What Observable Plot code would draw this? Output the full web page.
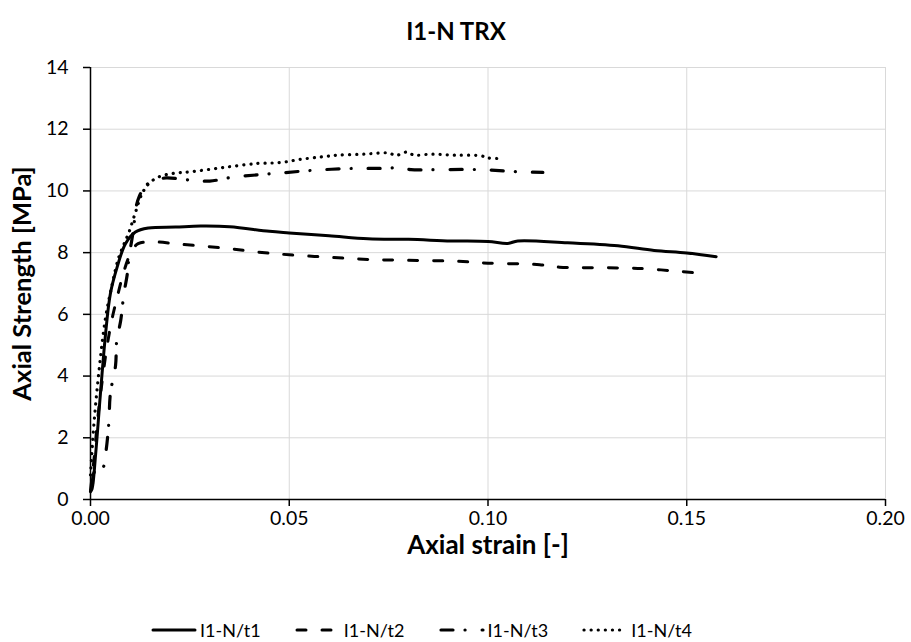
<!DOCTYPE html>
<html>
<head>
<meta charset="utf-8">
<script src="https://cdn.jsdelivr.net/npm/d3@7"></script>
<script src="https://cdn.jsdelivr.net/npm/@observablehq/plot@0.6"></script>
<style>
  html, body { margin: 0; padding: 0; background: #fff; }
  #wrap { position: relative; width: 911px; height: 642px; font-family: Lato, "Open Sans", sans-serif; }
  #legend { position: absolute; top: 616px; left: 151px; display: flex; align-items: center; font-size: 18px; color: #000; line-height: 28px; }
  .item { display: flex; align-items: center; margin-right: 34px; }
  .item svg { margin-right: 3px; }
</style>
</head>
<body>
<div id="wrap">
  <div id="chart"></div>
  <div id="legend"></div>
</div>
<script>
const title = "I1-N TRX";
const xLabel = "Axial strain [-]";
const yLabel = "Axial Strength [MPa]";
const xTicks = [0, 0.05, 0.10, 0.15, 0.20];
const yTicks = [0, 2, 4, 6, 8, 10, 12, 14];
const seriesNames = ["I1-N/t1", "I1-N/t2", "I1-N/t3", "I1-N/t4"];

const t1x = [0, 0.0004, 0.0013, 0.0025, 0.0038, 0.005, 0.0067, 0.0088, 0.0113, 0.0146, 0.0214, 0.0277, 0.035, 0.045, 0.05, 0.06, 0.0698, 0.08, 0.0907, 0.1, 0.105, 0.1075, 0.12, 0.1327, 0.1418, 0.15, 0.1574];
const t1y = [0.25, 0.35, 1.48, 3.43, 5.38, 6.67, 7.53, 8.29, 8.67, 8.80, 8.83, 8.86, 8.84, 8.69, 8.64, 8.55, 8.45, 8.43, 8.38, 8.36, 8.30, 8.38, 8.32, 8.22, 8.07, 7.99, 7.87];

const t2x = [0, 0.0008, 0.0018, 0.003, 0.0042, 0.0055, 0.0068, 0.0082, 0.0098, 0.0115, 0.0126, 0.016, 0.022, 0.0335, 0.042, 0.05, 0.06, 0.0698, 0.08, 0.0924, 0.1, 0.113, 0.118, 0.1377, 0.1528];
const t2y = [0.3, 1.2, 2.6, 3.9, 5.0, 5.9, 6.6, 7.3, 7.9, 8.25, 8.32, 8.35, 8.28, 8.15, 8.02, 7.93, 7.85, 7.78, 7.75, 7.72, 7.66, 7.61, 7.53, 7.49, 7.34];

const t3x = [0.0005, 0.001, 0.003, 0.0038, 0.0046, 0.005, 0.0063, 0.0066, 0.0076, 0.0084, 0.0092, 0.0097, 0.0109, 0.0113, 0.0122, 0.0139, 0.0164, 0.019, 0.025, 0.03, 0.036, 0.042, 0.0478, 0.0562, 0.0663, 0.073, 0.0776, 0.0806, 0.0874, 0.0982, 0.108, 0.1138];
const t3y = [0.5, 0.9, 1.0, 1.48, 2.46, 3.43, 4.34, 5.15, 5.80, 6.67, 7.26, 7.86, 8.83, 9.37, 9.80, 10.18, 10.35, 10.42, 10.35, 10.32, 10.45, 10.52, 10.58, 10.67, 10.73, 10.73, 10.75, 10.69, 10.69, 10.69, 10.62, 10.60];

const t4x = [0, 0.0008, 0.002, 0.0038, 0.0055, 0.007, 0.0085, 0.0097, 0.0113, 0.013, 0.0147, 0.0171, 0.0209, 0.0252, 0.0335, 0.042, 0.0478, 0.0526, 0.058, 0.0621, 0.0688, 0.075, 0.0768, 0.0796, 0.0814, 0.0856, 0.0915, 0.0982, 0.1, 0.1033];
const t4y = [0.8, 2.34, 4.0, 5.9, 7.0, 7.8, 8.3, 8.67, 9.3, 9.92, 10.24, 10.45, 10.57, 10.62, 10.76, 10.89, 10.92, 11.02, 11.10, 11.16, 11.19, 11.23, 11.15, 11.26, 11.16, 11.19, 11.16, 11.14, 11.07, 11.05];

const styles = [
  {strokeWidth: 3, dash: null},
  {strokeWidth: 3, dash: "9,16"},
  {strokeWidth: 3.2, dash: "12,12,0.1,17"},
  {strokeWidth: 3.2, dash: "0.1,7"}
];
const xs = [t1x, t2x, t3x, t4x];
const ys = [t1y, t2y, t3y, t4y];
const series = seriesNames.map((name, k) => xs[k].map((x, i) => ({name, x, y: ys[k][i]})));

const font = "Lato, 'Open Sans', sans-serif";
const chart = Plot.plot({
  width: 911,
  height: 580,
  marginLeft: 90,
  marginRight: 26,
  marginTop: 67,
  marginBottom: 81,
  style: {fontFamily: font, fontSize: "19.5px", color: "#000", background: "#fff", overflow: "visible"},
  x: {domain: [0, 0.2]},
  y: {domain: [0, 14]},
  marks: [
    Plot.gridX(xTicks, {stroke: "#d9d9d9", strokeOpacity: 1, strokeWidth: 1}),
    Plot.gridY(yTicks, {stroke: "#d9d9d9", strokeOpacity: 1, strokeWidth: 1}),
    Plot.axisX(xTicks, {tickSize: 7, tickPadding: 5, tickFormat: d3.format(".2f"), label: null, strokeWidth: 1.5}),
    Plot.axisY(yTicks, {tickSize: 7, tickPadding: 15, label: null, strokeWidth: 1.5}),
    Plot.ruleY([0], {stroke: "#000", strokeWidth: 1.5}),
    Plot.ruleX([0], {stroke: "#000", strokeWidth: 1.5}),
    ...series.map((data, k) => Plot.line(data, {
      x: "x", y: "y", stroke: "#000",
      strokeWidth: styles[k].strokeWidth,
      strokeDasharray: styles[k].dash,
      strokeLinecap: "round", strokeLinejoin: "round",
      curve: "catmull-rom"
    })),
    Plot.text([xLabel], {frameAnchor: "bottom", dy: 46, lineAnchor: "middle", textAnchor: "middle", fontWeight: "bold", fontSize: 26}),
    Plot.text([yLabel], {frameAnchor: "left", dx: -68, rotate: -90, lineAnchor: "middle", textAnchor: "middle", fontWeight: "bold", fontSize: 25.5}),
    Plot.text([title], {frameAnchor: "top", dx: -32, dy: -35, lineAnchor: "middle", textAnchor: "middle", fontWeight: "bold", fontSize: 24})
  ]
});
document.getElementById("chart").appendChild(chart);

const legend = document.getElementById("legend");
seriesNames.forEach((name, k) => {
  const item = document.createElement("div");
  item.className = "item";
  const s = d3.create("svg").attr("width", 46).attr("height", 12);
  s.append("line").attr("x1", 2).attr("x2", 44).attr("y1", 6).attr("y2", 6)
    .attr("stroke", "#000").attr("stroke-width", styles[k].strokeWidth)
    .attr("stroke-linecap", "round")
    .attr("stroke-dasharray", styles[k].dash);
  item.appendChild(s.node());
  const t = document.createElement("span");
  t.textContent = name;
  item.appendChild(t);
  legend.appendChild(item);
});
</script>
</body>
</html>
